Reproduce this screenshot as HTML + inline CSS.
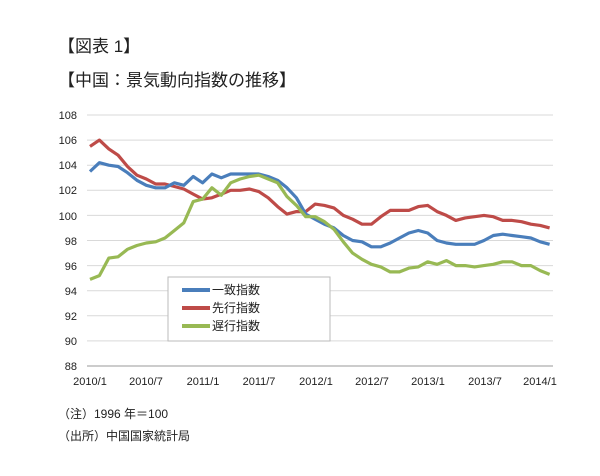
<!DOCTYPE html>
<html><head><meta charset="utf-8"><style>
body{margin:0;background:#fff;width:600px;height:471px;overflow:hidden;font-family:"Liberation Sans","Noto Sans CJK JP",sans-serif}
</style></head><body>
<svg id="s" width="600" height="471" xmlns="http://www.w3.org/2000/svg" font-family="Liberation Sans, Noto Sans CJK JP, sans-serif">
<text x="58" y="52" font-size="17" fill="#222">【図表 1】</text>
<text x="58" y="86" font-size="17" fill="#222">【中国：景気動向指数の推移】</text>
<g id="grid" stroke="#d9d9d9" stroke-width="1"></g>
<g id="ylab" font-size="11" fill="#222" text-anchor="end"></g>
<line x1="87" y1="366" x2="553" y2="366" stroke="#999"/>
<g font-size="11" fill="#222" text-anchor="middle">
<text x="90" y="385">2010/1</text><text x="146" y="385">2010/7</text><text x="203" y="385">2011/1</text><text x="259" y="385">2011/7</text><text x="316" y="385">2012/1</text><text x="372" y="385">2012/7</text><text x="428" y="385">2013/1</text><text x="485" y="385">2013/7</text><text x="540" y="385">2014/1</text>
</g>
<g id="lines" fill="none" stroke-width="3.2" stroke-linejoin="round"></g>
<rect x="168" y="277" width="162" height="64" fill="#fff" stroke="#bbb"/>
<g font-size="12" fill="#222">
<line x1="182" y1="290" x2="210" y2="290" stroke="#4a7ebb" stroke-width="4"/><text x="212" y="294">一致指数</text>
<line x1="182" y1="308" x2="210" y2="308" stroke="#be4b48" stroke-width="4"/><text x="212" y="312">先行指数</text>
<line x1="182" y1="326" x2="210" y2="326" stroke="#98b954" stroke-width="4"/><text x="212" y="330">遅行指数</text>
</g>
<text x="58" y="418" font-size="12" fill="#222">（注）1996 年＝100</text>
<text x="58" y="440" font-size="12" fill="#222">（出所）中国国家統計局</text>
</svg>
<script>
var ns="http://www.w3.org/2000/svg";
function Y(v){return 115+(108-v)*12.55}
var g=document.getElementById('grid'),yl=document.getElementById('ylab');
for(var v=88;v<=108;v+=2){var l=document.createElementNS(ns,'line');l.setAttribute('x1',87);l.setAttribute('x2',553);l.setAttribute('y1',Y(v));l.setAttribute('y2',Y(v));g.appendChild(l);}
var B=[103.5,104.2,104.0,103.9,103.4,102.8,102.4,102.2,102.2,102.6,102.4,103.1,102.6,103.3,103.0,103.3,103.3,103.3,103.3,103.1,102.8,102.2,101.4,100.1,99.7,99.3,99.0,98.4,98.0,97.9,97.5,97.5,97.8,98.2,98.6,98.8,98.6,98.0,97.8,97.7,97.7,97.7,98.0,98.4,98.5,98.4,98.3,98.2,97.9,97.7];
var R=[105.5,106.0,105.3,104.8,103.9,103.2,102.9,102.5,102.5,102.3,102.1,101.7,101.3,101.4,101.7,102.0,102.0,102.1,101.9,101.4,100.7,100.1,100.3,100.3,100.9,100.8,100.6,100.0,99.7,99.3,99.3,99.9,100.4,100.4,100.4,100.7,100.8,100.3,100.0,99.6,99.8,99.9,100.0,99.9,99.6,99.6,99.5,99.3,99.2,99.0];
var G=[94.9,95.2,96.6,96.7,97.3,97.6,97.8,97.9,98.2,98.8,99.4,101.1,101.3,102.2,101.6,102.6,102.9,103.1,103.2,102.9,102.6,101.5,100.8,99.9,99.9,99.5,98.9,97.9,97.0,96.5,96.1,95.9,95.5,95.5,95.8,95.9,96.3,96.1,96.4,96.0,96.0,95.9,96.0,96.1,96.3,96.3,96.0,96.0,95.6,95.3];
var L=document.getElementById('lines');
[[R,'#be4b48'],[B,'#4a7ebb'],[G,'#98b954']].forEach(function(s){var p=document.createElementNS(ns,'polyline');p.setAttribute('points',s[0].map(function(v,i){return (90+i*9.38).toFixed(1)+','+Y(v).toFixed(1)}).join(' '));p.setAttribute('stroke',s[1]);L.appendChild(p);});
</script>
<div style="display:none"></div>
<svg width="0" height="0"></svg>
<style></style>
<script></script>
<svg style="position:absolute;left:0;top:0" width="600" height="471" font-family="Liberation Sans, sans-serif" font-size="11" fill="#222" text-anchor="end">
<text x="77" y="119">108</text><text x="77" y="144">106</text><text x="77" y="169">104</text><text x="77" y="194">102</text><text x="77" y="220">100</text><text x="77" y="245">98</text><text x="77" y="270">96</text><text x="77" y="295">94</text><text x="77" y="320">92</text><text x="77" y="345">90</text><text x="77" y="370">88</text>
</svg>
</body></html>
